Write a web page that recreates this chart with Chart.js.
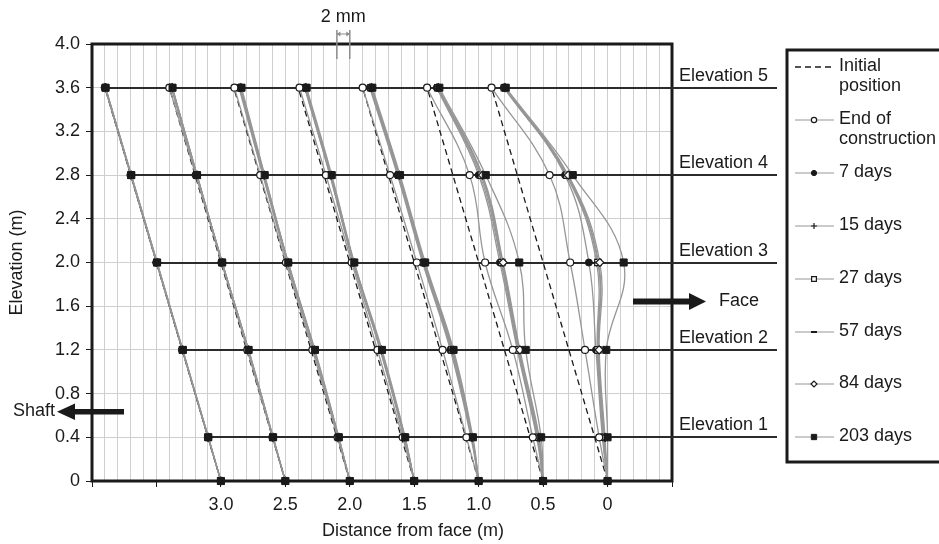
<!DOCTYPE html>
<html><head><meta charset="utf-8">
<script src="https://cdn.jsdelivr.net/npm/chart.js@4/dist/chart.umd.min.js"></script>
<style>html,body{margin:0;padding:0;background:#fff}#wrap{width:939px;height:544px;position:relative}</style>
</head><body><div id="wrap"><canvas id="c"></canvas></div>
<script>
// ---------------- DATA ----------------
const elevations = [0, 0.4, 1.2, 2.0, 2.8, 3.6];             // m, gauge levels (0 = base)
const elevationLevels = [0.4, 1.2, 2.0, 2.8, 3.6];
const elevationLabels = ['Elevation 1', 'Elevation 2', 'Elevation 3', 'Elevation 4', 'Elevation 5'];
const profileBases = [3.0, 2.5, 2.0, 1.5, 1.0, 0.5, 0];       // distance from face at base (m)
const profileTops  = [3.9, 3.4, 2.9, 2.4, 1.9, 1.4, 0.9];     // initial position at top (m)
const xTickLabels = ['3.0', '2.5', '2.0', '1.5', '1.0', '0.5', '0'];
const scaleBarMm = 2;            // 2 mm displacement ...
const scaleBarAxis = 0.1;        // ... drawn as 0.1 m on the axis
const readingNames = ['End of construction', '7 days', '15 days', '27 days', '57 days', '84 days', '203 days'];
// displacement towards face (mm) per profile (rows) at each elevation (cols)
const dispEndOfConstruction = [
  [0, 0, 0, 0, 0, 0],
  [0, 0, 0.1, 0.1, 0.1, 0],
  [0, 0.1, 0.2, 0.1, 0.1, 0.1],
  [0, 0.2, 0.3, 0.3, 0.3, 0.2],
  [0, 0.1, 0.4, 0.4, 0.25, 0],
  [0, 0.4, 1.3, 1.0, 2.6, 0],
  [0, 0.7, 2.5, 4.2, 5.0, 0]
];
const disp7Days = [
  [0, 0, 0, 0, 0, 0.05],
  [0, 0.05, 0.2, 0.15, 0.2, 0.3],
  [0, 0.2, 0.4, 0.3, 0.5, 0.8],
  [0, 0.4, 0.7, 0.5, 0.9, 1.0],
  [0, 0.8, 1.6, 1.3, 1.4, 1.1],
  [0, 1.0, 2.0, 3.3, 4.0, 1.5],
  [0, 1.2, 4.2, 7.1, 7.4, 1.9]
];
const disp15Days = [
  [0, 0, 0, 0.05, 0.05, 0.05],
  [0, 0.05, 0.2, 0.15, 0.25, 0.35],
  [0, 0.2, 0.4, 0.35, 0.6, 0.9],
  [0, 0.45, 0.75, 0.55, 0.95, 1.05],
  [0, 0.9, 1.7, 1.4, 1.5, 1.2],
  [0, 1.1, 2.1, 3.5, 4.2, 1.6],
  [0, 1.3, 4.4, 8.3, 7.6, 2.0]
];
const disp27Days = [
  [0, 0, 0.05, 0.05, 0.05, 0.1],
  [0, 0.05, 0.25, 0.2, 0.25, 0.4],
  [0, 0.25, 0.45, 0.4, 0.65, 1.0],
  [0, 0.5, 0.8, 0.6, 1.0, 1.1],
  [0, 0.9, 1.8, 1.5, 1.6, 1.3],
  [0, 1.2, 2.2, 3.6, 4.4, 1.65],
  [0, 1.4, 4.5, 8.5, 7.7, 2.0]
];
const disp57Days = [
  [0, 0.05, 0.05, 0.05, 0.1, 0.1],
  [0, 0.1, 0.25, 0.2, 0.3, 0.45],
  [0, 0.25, 0.5, 0.4, 0.7, 1.05],
  [0, 0.5, 0.85, 0.6, 1.05, 1.15],
  [0, 1.0, 1.9, 1.55, 1.65, 1.35],
  [0, 1.3, 2.3, 3.7, 4.5, 1.7],
  [0, 1.5, 4.6, 8.6, 7.8, 2.1]
];
const disp84Days = [
  [0, 0.05, 0.05, 0.1, 0.1, 0.1],
  [0, 0.1, 0.3, 0.2, 0.3, 0.45],
  [0, 0.3, 0.5, 0.45, 0.75, 1.1],
  [0, 0.55, 0.9, 0.65, 1.1, 1.2],
  [0, 1.0, 2.0, 1.6, 1.7, 1.4],
  [0, 1.4, 2.4, 3.8, 4.6, 1.75],
  [0, 1.6, 4.7, 8.8, 7.9, 2.1]
];
const disp203Days = [
  [0, 0.05, 0.1, 0.1, 0.1, 0.1],
  [0, 0.1, 0.3, 0.2, 0.3, 0.5],
  [0, 0.3, 0.6, 0.45, 0.8, 1.2],
  [0, 0.6, 1.0, 0.7, 1.2, 1.3],
  [0, 1.1, 2.1, 1.7, 1.8, 1.5],
  [0, 1.7, 3.3, 6.3, 5.1, 1.9],
  [0, 2.0, 5.8, 12.5, 8.6, 2.2]
];
const readingSeries = [dispEndOfConstruction, disp7Days, disp15Days, disp27Days, disp57Days, disp84Days, disp203Days];

// ---------------- STYLE ----------------
const FONT = '"Liberation Sans", Arial, Helvetica, sans-serif';
const INK = '#1a1a1a';
const GREY = 'rgb(150,150,150)';
const markerStyles = [
  {pointStyle: 'circle', radius: 3.5, bg: '#fff', bw: 1.2, order: 1},
  {pointStyle: 'circle', radius: 3.5, bg: INK, bw: 1, order: 7},
  {pointStyle: 'cross', radius: 4, bg: INK, bw: 1.2, order: 6},
  {pointStyle: 'rect', radius: 4.5, bg: '#fff', bw: 1.2, order: 5},
  {pointStyle: 'line', radius: 4, bg: INK, bw: 2, order: 4},
  {pointStyle: 'rectRot', radius: 4, bg: '#fff', bw: 1.2, order: 3},
  {pointStyle: 'rect', radius: 5, bg: INK, bw: 1, order: 0}
];
const topElev = elevations[elevations.length - 1];
const mmToAxis = scaleBarAxis / scaleBarMm;
function initialX(p, e) { return profileBases[p] + (profileTops[p] - profileBases[p]) * e / topElev; }

const datasets = [];
profileBases.forEach((b, p) => {
  datasets.push({
    label: 'Initial position', data: [{x: profileBases[p], y: 0}, {x: profileTops[p], y: topElev}],
    showLine: true, borderColor: INK, borderWidth: 1.3, borderDash: [6, 4], pointRadius: 0,
    order: 2, clip: false
  });
  readingSeries.forEach((arr, r) => {
    const m = markerStyles[r];
    datasets.push({
      label: readingNames[r],
      data: elevations.map((e, i) => ({x: initialX(p, e) - arr[p][i] * mmToAxis, y: e})),
      showLine: true, tension: 0.4, borderColor: GREY, borderWidth: 1.3,
      pointStyle: m.pointStyle, pointRadius: m.radius, pointBackgroundColor: m.bg,
      pointBorderColor: INK, pointBorderWidth: m.bw, order: m.order, clip: false
    });
  });
});

const legendItems = [
  {lines: ['Initial', 'position'], y: 67, dashed: true},
  {lines: ['End of', 'construction'], y: 120, m: 0},
  {lines: ['7 days'], y: 173, m: 1},
  {lines: ['15 days'], y: 226, m: 2},
  {lines: ['27 days'], y: 279, m: 3},
  {lines: ['57 days'], y: 332, m: 4},
  {lines: ['84 days'], y: 384, m: 5},
  {lines: ['203 days'], y: 437, m: 6}
];

const decor = {
  id: 'decor',
  beforeDatasetsDraw(chart) {
    const {ctx, chartArea: a, scales: {x, y}} = chart;
    ctx.save();
    ctx.strokeStyle = INK; ctx.lineWidth = 3;
    ctx.strokeRect(a.left, a.top, a.right - a.left, a.bottom - a.top);
    ctx.strokeStyle = '#2b2b2b'; ctx.lineWidth = 2;
    ctx.font = '18px ' + FONT; ctx.fillStyle = INK; ctx.textBaseline = 'middle'; ctx.textAlign = 'left';
    elevationLevels.forEach((e, i) => {
      const yy = Math.round(y.getPixelForValue(e));
      const xs = x.getPixelForValue(initialX(0, e));
      ctx.beginPath(); ctx.moveTo(xs, yy); ctx.lineTo(777, yy); ctx.stroke();
      ctx.fillText(elevationLabels[i], 679, yy - 12);
    });
    ctx.restore();
  },
  afterDraw(chart) {
    const {ctx, chartArea: a, scales: {x, y}} = chart;
    ctx.save();
    ctx.font = '18px ' + FONT; ctx.fillStyle = INK; ctx.textBaseline = 'middle';
    // axis titles
    ctx.textAlign = 'center';
    ctx.fillText('Distance from face (m)', 413, 531);
    ctx.save(); ctx.translate(17, (a.top + a.bottom) / 2); ctx.rotate(-Math.PI / 2);
    ctx.fillText('Elevation (m)', 0, 0); ctx.restore();
    // scale bar
    const x1 = x.getPixelForValue(profileBases[2] + scaleBarAxis), x2 = x.getPixelForValue(profileBases[2]);
    ctx.fillText(scaleBarMm + ' mm', (x1 + x2) / 2, 17);
    ctx.strokeStyle = '#8c8c8c'; ctx.fillStyle = '#8c8c8c'; ctx.lineWidth = 1.5;
    [x1, x2].forEach(xx => { ctx.beginPath(); ctx.moveTo(xx, 30); ctx.lineTo(xx, 59); ctx.stroke(); });
    ctx.lineWidth = 1;
    ctx.beginPath(); ctx.moveTo(x1, 34); ctx.lineTo(x2, 34); ctx.stroke();
    ctx.beginPath(); ctx.moveTo(x1, 34); ctx.lineTo(x1 + 3.5, 31.5); ctx.lineTo(x1 + 3.5, 36.5); ctx.fill();
    ctx.beginPath(); ctx.moveTo(x2, 34); ctx.lineTo(x2 - 3.5, 31.5); ctx.lineTo(x2 - 3.5, 36.5); ctx.fill();
    // arrows
    ctx.fillStyle = INK; ctx.strokeStyle = INK;
    ctx.fillRect(633, 298.5, 58, 6);
    ctx.beginPath(); ctx.moveTo(689, 293); ctx.lineTo(706, 301.5); ctx.lineTo(689, 310); ctx.fill();
    ctx.textAlign = 'left'; ctx.fillText('Face', 719, 301);
    ctx.fillRect(74, 409, 50, 5.5);
    ctx.beginPath(); ctx.moveTo(75, 403.5); ctx.lineTo(57, 411.7); ctx.lineTo(75, 420); ctx.fill();
    ctx.textAlign = 'right'; ctx.fillText('Shaft', 55, 411);
    // legend box
    ctx.lineWidth = 3; ctx.strokeStyle = INK;
    ctx.strokeRect(787, 50, 200, 412);
    ctx.textAlign = 'left';
    legendItems.forEach(it => {
      if (it.dashed) {
        ctx.lineWidth = 1.5; ctx.setLineDash([6, 4]); ctx.strokeStyle = INK;
        ctx.beginPath(); ctx.moveTo(795, it.y); ctx.lineTo(833, it.y); ctx.stroke(); ctx.setLineDash([]);
      } else {
        ctx.lineWidth = 1; ctx.strokeStyle = GREY;
        ctx.beginPath(); ctx.moveTo(795, it.y); ctx.lineTo(834, it.y); ctx.stroke();
        const m = markerStyles[it.m];
        ctx.fillStyle = m.bg; ctx.strokeStyle = INK; ctx.lineWidth = m.bw;
        Chart.helpers.drawPoint(ctx, {pointStyle: m.pointStyle, radius: m.radius * 0.75, rotation: 0, borderWidth: m.bw}, 814, it.y);
      }
      ctx.fillStyle = INK;
      it.lines.forEach((t, k) => ctx.fillText(t, 839, it.y + k * 20 - 1));
    });
    ctx.restore();
  }
};

Chart.defaults.font.family = FONT;
Chart.defaults.font.size = 18;
Chart.defaults.color = INK;

new Chart(document.getElementById('c'), {
  type: 'scatter',
  data: {datasets},
  plugins: [decor],
  options: {
    responsive: true, maintainAspectRatio: false, animation: false,
    layout: {padding: {left: 0, right: 267, top: 44, bottom: 0}},
    plugins: {legend: {display: false}, tooltip: {enabled: false}},
    scales: {
      x: {
        type: 'linear', reverse: true, min: -0.5, max: 4.0,
        afterFit(s) { s.height = 63; },
        border: {display: false},
        grid: {
          color: '#cfcfcf', lineWidth: 1, tickLength: 6,
          tickColor: c => (Math.abs(c.tick.value * 2 - Math.round(c.tick.value * 2)) < 1e-6 ? INK : 'rgba(0,0,0,0)')
        },
        ticks: {
          stepSize: 0.1, autoSkip: false, maxRotation: 0, padding: 7,
          callback: v => {
            const r = Math.round(v * 10) / 10;
            const lbl = r === 0 ? '0' : r.toFixed(1);
            return xTickLabels.includes(lbl) ? lbl : '';
          }
        }
      },
      y: {
        type: 'linear', min: 0, max: 4.0,
        afterFit(s) { s.width = 92; },
        border: {display: false},
        grid: {color: '#cfcfcf', lineWidth: 1, tickLength: 6, tickColor: INK},
        ticks: {stepSize: 0.4, padding: 6, callback: v => (v === 0 ? '0' : (Math.round(v * 10) / 10).toFixed(1))}
      }
    }
  }
});
</script>
</body></html>
